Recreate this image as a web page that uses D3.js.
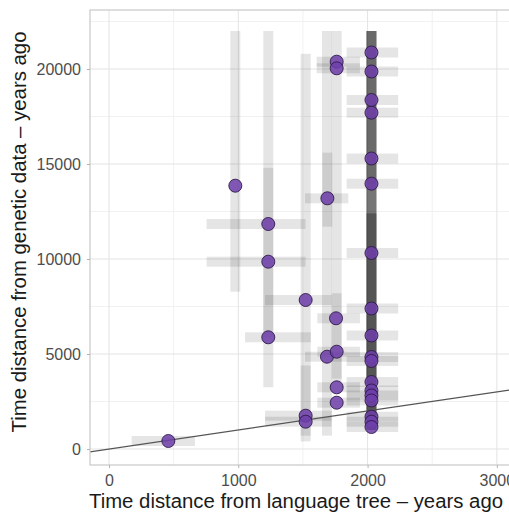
<!DOCTYPE html>
<html>
<head>
<meta charset="utf-8">
<script src="https://cdn.jsdelivr.net/npm/d3@7"></script>
<style>
  body { margin: 0; background: #fff; }
  svg { display: block; font-family: "Liberation Sans", Arial, sans-serif; }
  .axis text { fill: #4d4d4d; font-size: 16px; }
  .axis line { stroke: #b3b3b3; }
  .axis path { display: none; }
  .title { font-size: 20px; fill: #1a1a1a; }
</style>
</head>
<body>
<div class="chart"></div>
<script>
// x: years ago from language tree, y: years ago from genetic data, with ranges
var langYears = [459, 977, 1232, 1232, 1232, 1521, 1521, 1521, 1761, 1761, 1689, 1756, 1686, 1761, 1761, 1761,
                 2030, 2030, 2030, 2030, 2030, 2030, 2030, 2030, 2030, 2030, 2030, 2030, 2030, 2030, 2030, 2030, 2030, 2030];
var langLow   = [175, 977, 755, 755, 1052, 1207, 1207, 1207, 1606, 1606, 1516, 1611, 1516, 1611, 1611, 1611,
                 1838, 1838, 1838, 1838, 1838, 1838, 1838, 1838, 1838, 1838, 1838, 1838, 1838, 1838, 1838, 1838, 1838, 1838];
var langHigh  = [665, 977, 1521, 1521, 1562, 1722, 1722, 1722, 1941, 1941, 1851, 1941, 1838, 1941, 1941, 1941,
                 2237, 2237, 2237, 2237, 2237, 2237, 2237, 2237, 2237, 2237, 2237, 2237, 2237, 2237, 2237, 2237, 2237, 2237];
var genYears  = [421, 13858, 11842, 9858, 5879, 7842, 1753, 1437, 20384, 20037, 13194, 6879, 4858, 5121, 3247, 2437,
                 20868, 19868, 18368, 17700, 15289, 13963, 10316, 7395, 5974, 4842, 4632, 3526, 3079, 2816, 2553, 1700, 1437, 1158];
var genLow    = [250, 8280, 3250, 5880, 5879, 700, 400, 1437, 3500, 20037, 11700, 6879, 700, 3700, 3247, 2437,
                 1000, 1000, 1000, 1000, 1000, 1000, 1000, 13963, 1000, 1000, 1000, 3526, 3079, 2816, 2553, 1700, 1437, 1158];
var genHigh   = [600, 22000, 22000, 14800, 5879, 20800, 4400, 1437, 22000, 20037, 15600, 6879, 22000, 8200, 3247, 2437,
                 22000, 22000, 22000, 22000, 22000, 22000, 22000, 22000, 12400, 12400, 12400, 3526, 3079, 2816, 2553, 1700, 1437, 1158];

var xTicks = [0, 1000, 2000, 3000];
var xMinor = [500, 1500, 2500];
var yTicks = [0, 5000, 10000, 15000, 20000];
var yMinor = [2500, 7500, 12500, 17500, 22500];

var width = 509, height = 516;
var margin = { top: 10, right: -7, bottom: 51, left: 90 };
var x = d3.scaleLinear().domain([-147, 3148]).range([margin.left, width - margin.right]);
var y = d3.scaleLinear().domain([-842, 23105]).range([height - margin.bottom, margin.top]);

var data = langYears.map(function(d, i) {
  return { x: d, xlo: langLow[i], xhi: langHigh[i], y: genYears[i], ylo: genLow[i], yhi: genHigh[i] };
});

var svg = d3.select('.chart').append('svg')
    .attr('width', width)
    .attr('height', height);

svg.append('defs').append('clipPath').attr('id', 'panel')
  .append('rect')
    .attr('x', x.range()[0]).attr('y', y.range()[1])
    .attr('width', x.range()[1] - x.range()[0])
    .attr('height', y.range()[0] - y.range()[1]);

// grid
var grid = svg.append('g');
grid.selectAll('.xminor').data(xMinor).enter().append('line')
    .attr('x1', x).attr('x2', x).attr('y1', y.range()[0]).attr('y2', y.range()[1])
    .attr('stroke', '#f1f1f1').attr('stroke-width', 1);
grid.selectAll('.yminor').data(yMinor).enter().append('line')
    .attr('y1', y).attr('y2', y).attr('x1', x.range()[0]).attr('x2', x.range()[1])
    .attr('stroke', '#f1f1f1').attr('stroke-width', 1);
grid.selectAll('.xmajor').data(xTicks).enter().append('line')
    .attr('x1', x).attr('x2', x).attr('y1', y.range()[0]).attr('y2', y.range()[1])
    .attr('stroke', '#e3e3e3').attr('stroke-width', 1);
grid.selectAll('.ymajor').data(yTicks).enter().append('line')
    .attr('y1', y).attr('y2', y).attr('x1', x.range()[0]).attr('x2', x.range()[1])
    .attr('stroke', '#e3e3e3').attr('stroke-width', 1);

var plot = svg.append('g').attr('clip-path', 'url(#panel)');

// horizontal error bars (language tree)
plot.selectAll('.hbar').data(data).enter().append('rect')
    .attr('x', function(d) { return x(d.xlo); })
    .attr('width', function(d) { return x(d.xhi) - x(d.xlo); })
    .attr('y', function(d) { return y(d.y) - 5; })
    .attr('height', 10)
    .attr('fill', '#000').attr('fill-opacity', 0.1);

// vertical error bars (genetic data)
plot.selectAll('.vbar').data(data).enter().append('rect')
    .attr('x', function(d) { return x(d.x) - 5; })
    .attr('width', 10)
    .attr('y', function(d) { return y(d.yhi); })
    .attr('height', function(d) { return y(d.ylo) - y(d.yhi); })
    .attr('fill', '#000').attr('fill-opacity', 0.1);

// y = x reference line
plot.append('line')
    .attr('x1', x(-1000)).attr('y1', y(-1000))
    .attr('x2', x(4000)).attr('y2', y(4000))
    .attr('stroke', '#555').attr('stroke-width', 1.3);

plot.selectAll('circle').data(data).enter().append('circle')
    .attr('cx', function(d) { return x(d.x); })
    .attr('cy', function(d) { return y(d.y); })
    .attr('r', 6.5)
    .attr('fill', '#6f3fab').attr('fill-opacity', 0.85)
    .attr('stroke', '#2e1a4a').attr('stroke-width', 0.9);

// panel border
svg.append('rect')
    .attr('x', x.range()[0]).attr('y', y.range()[1])
    .attr('width', x.range()[1] - x.range()[0])
    .attr('height', y.range()[0] - y.range()[1])
    .attr('fill', 'none').attr('stroke', '#c8c8c8').attr('stroke-width', 1.2);

// axes
svg.append('g')
    .attr('class', 'axis axis--x')
    .attr('transform', 'translate(0,' + y.range()[0] + ')')
    .call(d3.axisBottom(x).tickValues(xTicks).tickSize(3).tickPadding(7).tickFormat(d3.format('d')));

svg.append('g')
    .attr('class', 'axis axis--y')
    .attr('transform', 'translate(' + x.range()[0] + ',0)')
    .call(d3.axisLeft(y).tickValues(yTicks).tickSize(3).tickPadding(6).tickFormat(d3.format('d')));

svg.append('text')
    .attr('class', 'title')
    .attr('x', 296)
    .attr('y', 508)
    .attr('text-anchor', 'middle')
    .attr('textLength', 414).attr('lengthAdjust', 'spacingAndGlyphs')
    .text('Time distance from language tree – years ago');

svg.append('text')
    .attr('class', 'title')
    .attr('transform', 'translate(26,232) rotate(-90)')
    .attr('text-anchor', 'middle')
    .attr('textLength', 401).attr('lengthAdjust', 'spacingAndGlyphs')
    .text('Time distance from genetic data – years ago');
</script>
</body>
</html>
